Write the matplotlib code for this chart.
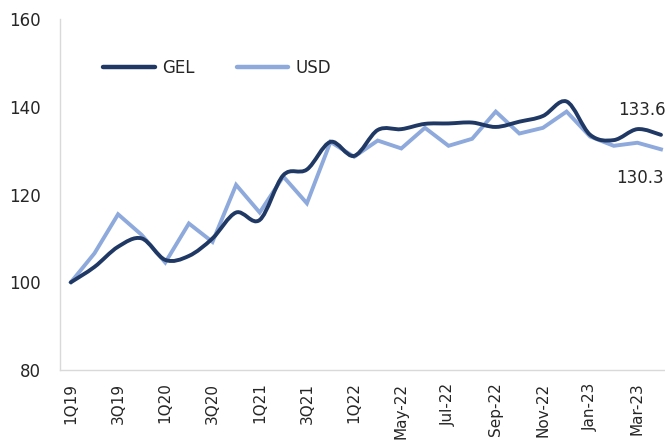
import matplotlib
matplotlib.use("Agg")
import matplotlib.pyplot as plt
from matplotlib.path import Path
from matplotlib.patches import PathPatch
from matplotlib.lines import Line2D
import numpy as np

categories = ["1Q19", "2Q19", "3Q19", "4Q19", "1Q20", "2Q20", "3Q20", "4Q20",
              "1Q21", "2Q21", "3Q21", "4Q21", "1Q22", "Apr-22", "May-22", "Jun-22",
              "Jul-22", "Aug-22", "Sep-22", "Oct-22", "Nov-22", "Dec-22", "Jan-23",
              "Feb-23", "Mar-23", "Apr-23"]
gel = [100.0, 103.5, 108.1, 110.0, 105.1, 106.0, 110.0, 115.9, 114.2, 124.4,
       125.7, 132.0, 128.8, 134.7, 134.9, 136.1, 136.2, 136.4, 135.4, 136.6,
       137.9, 141.2, 133.6, 132.4, 134.9, 133.6]
usd = [100.0, 106.6, 115.5, 110.8, 104.5, 113.4, 109.2, 122.2, 115.9, 124.1,
       118.0, 132.0, 128.6, 132.3, 130.5, 135.2, 131.1, 132.7, 138.9, 133.9,
       135.2, 138.9, 133.2, 131.1, 131.8, 130.3]
tick_labels = categories[::2]

GEL_COLOR = "#1F3864"
USD_COLOR = "#8EA9DB"
TEXT = "#262626"

plt.rcParams['font.family'] = ['DejaVu Sans']

fig = plt.figure(figsize=(6.65, 4.48), dpi=100)
ax = fig.add_axes([0.090, 0.174, 0.910, 0.7836])

x = np.arange(len(categories))

def smooth_path(xs, ys):
    pts = np.column_stack([xs, ys])
    n = len(pts)
    verts = [pts[0]]
    codes = [Path.MOVETO]
    for i in range(n - 1):
        p0 = pts[i - 1] if i > 0 else pts[i]
        p1 = pts[i]
        p2 = pts[i + 1]
        p3 = pts[i + 2] if i + 2 < n else pts[i + 1]
        c1 = p1 + (p2 - p0) / 6.0
        c2 = p2 - (p3 - p1) / 6.0
        verts += [c1, c2, p2]
        codes += [Path.CURVE4] * 3
    return Path(verts, codes)

ax.add_patch(PathPatch(smooth_path(x, np.array(gel)), facecolor="none",
                       edgecolor=GEL_COLOR, lw=2.8, capstyle="round", joinstyle="round", zorder=3))
ax.plot(x, usd, color=USD_COLOR, lw=2.8, solid_joinstyle="miter", zorder=2)

ax.set_xlim(-0.466, 25.17)
ax.set_ylim(80, 160)
ax.set_yticks([80, 100, 120, 140, 160])
ax.set_xticks(x[::2])
ax.set_xticklabels(tick_labels, rotation=90, fontsize=11, color=TEXT)
ax.tick_params(axis="y", labelsize=12, colors=TEXT, length=0, pad=14)
ax.tick_params(axis="x", length=0, pad=9, colors=TEXT)

for s in ["top", "right"]:
    ax.spines[s].set_visible(False)
for s in ["left", "bottom"]:
    ax.spines[s].set_color("#D9D9D9")
    ax.spines[s].set_linewidth(1.0)

handles = [Line2D([], [], color=GEL_COLOR, lw=3.2, solid_capstyle="round"),
           Line2D([], [], color=USD_COLOR, lw=3.2, solid_capstyle="round")]
ax.legend(handles, ["GEL", "USD"], ncol=2, frameon=False, fontsize=12,
          loc="upper left", bbox_to_anchor=(0.047, 0.93), handlelength=3.1,
          handletextpad=0.45, columnspacing=2.5, labelcolor=TEXT)

ax.text(23.18, 139.3, f"{gel[-1]:.1f}", fontsize=12, color=TEXT, ha="left", va="center", clip_on=False)
ax.text(23.10, 123.7, f"{usd[-1]:.1f}", fontsize=12, color=TEXT, ha="left", va="center", clip_on=False)

fig.savefig("out.png", dpi=100)
